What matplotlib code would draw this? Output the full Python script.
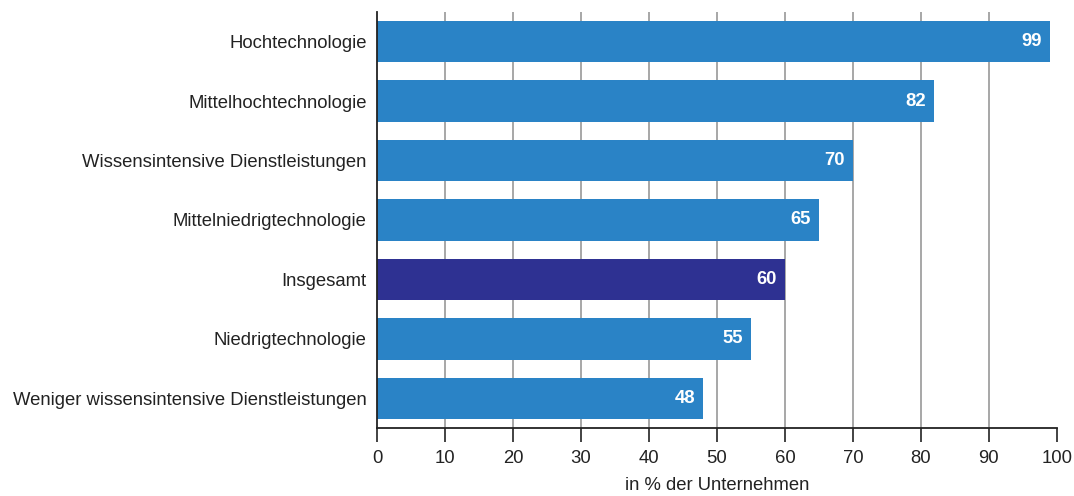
import matplotlib.pyplot as plt

# share of companies per sector group (%)
categories = [
    "Hochtechnologie",
    "Mittelhochtechnologie",
    "Wissensintensive Dienstleistungen",
    "Mittelniedrigtechnologie",
    "Insgesamt",
    "Niedrigtechnologie",
    "Weniger wissensintensive Dienstleistungen",
]
values = [99, 82, 70, 65, 60, 55, 48]
highlight = "Insgesamt"

plt.rcParams['font.family'] = ['Liberation Sans', 'DejaVu Sans']
fs = 13.3

fig = plt.figure(figsize=(10.74, 4.96), dpi=100)
ax = fig.add_axes([0.351, 0.137, 0.633, 0.839])

pos = list(range(len(categories)))
colors = ["#2E3192" if c == highlight else "#2A83C6" for c in categories]
bars = ax.barh(pos, values, height=0.7, color=colors, zorder=2)

for b, v in zip(bars, values):
    ax.text(v - 1.2, b.get_y() + b.get_height() / 2, str(v), color="white",
            fontsize=fs, fontweight="bold", ha="right", va="center", zorder=3)

for g in range(10, 100, 10):
    ax.axvline(g, color="#a0a0a0", lw=1.3, zorder=1)

ax.set_xlim(0, 100)
ax.set_ylim(len(categories) - 0.5, -0.5)
ax.set_xticks(range(0, 101, 10))
ax.set_yticks(pos)
ax.set_yticklabels(categories, fontsize=fs, color="#222222")
ax.tick_params(axis="y", length=0, pad=7.5)
ax.tick_params(axis="x", length=10, width=1.2, labelsize=fs, colors="#222222", pad=6)
ax.set_xlabel("in % der Unternehmen", fontsize=fs, color="#222222", labelpad=7)

for s in ["top", "right"]:
    ax.spines[s].set_visible(False)
ax.spines["left"].set_color("#222222")
ax.spines["left"].set_linewidth(1.3)
ax.spines["bottom"].set_color("#222222")
ax.spines["bottom"].set_linewidth(1.3)

fig.savefig("out.png", dpi=100)
